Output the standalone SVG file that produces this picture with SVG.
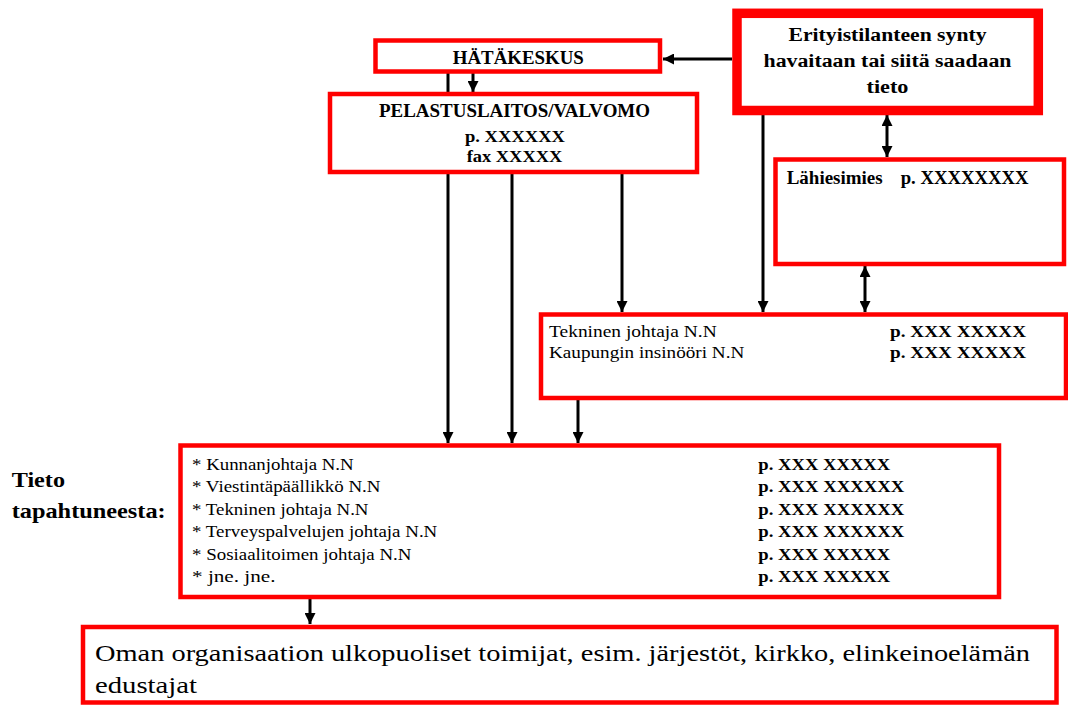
<svg xmlns="http://www.w3.org/2000/svg" width="1068" height="705" viewBox="0 0 1068 705" font-family="'Liberation Serif', 'Times New Roman', Times, serif">
<style>
.box{fill:#fff;stroke:#ff0000;stroke-width:4.5}
.thick{fill:#fff;stroke:#ff0000;stroke-width:9.5}
text{font-family:'Liberation Serif','Times New Roman',Times,serif;fill:#000}
.b{font-weight:bold}
.c{text-anchor:middle}
.con{stroke:#000;stroke-width:3;fill:none}
</style>
<defs>
<marker id="ah" markerUnits="userSpaceOnUse" markerWidth="11" markerHeight="11" viewBox="0 0 10 10" refX="10" refY="5" orient="auto-start-reverse">
<path d="M0,0 L10,5 L0,10 z" fill="#000"/>
</marker>
</defs>
<g id="connectors">
<line class="con" x1="732" y1="59" x2="663" y2="59" marker-end="url(#ah)"/>
<line class="con" x1="448" y1="73" x2="448" y2="443" marker-end="url(#ah)"/>
<line class="con" x1="473" y1="73" x2="473" y2="92" marker-end="url(#ah)"/>
<line class="con" x1="512" y1="174" x2="512" y2="443" marker-end="url(#ah)"/>
<line class="con" x1="622" y1="174" x2="622" y2="312" marker-end="url(#ah)"/>
<line class="con" x1="763" y1="115" x2="763" y2="312" marker-end="url(#ah)"/>
<line class="con" x1="887" y1="115" x2="887" y2="157" marker-start="url(#ah)" marker-end="url(#ah)"/>
<line class="con" x1="865" y1="266" x2="865" y2="312" marker-start="url(#ah)" marker-end="url(#ah)"/>
<line class="con" x1="578" y1="400" x2="578" y2="443" marker-end="url(#ah)"/>
<line class="con" x1="310" y1="599" x2="310" y2="624" marker-end="url(#ah)"/>
</g>
<g id="hatakeskus">
<rect class="box" x="375.5" y="40.5" width="284.5" height="31"/>
<text class="b c" x="518.3" y="64.3" font-size="18" textLength="131" lengthAdjust="spacingAndGlyphs">HÄTÄKESKUS</text>
</g>
<g id="pelastuslaitos">
<rect class="box" x="330" y="94" width="367" height="78"/>
<text class="b c" x="514.5" y="117.3" font-size="18.6" textLength="271" lengthAdjust="spacingAndGlyphs">PELASTUSLAITOS/VALVOMO</text>
<text class="b c" x="515" y="141.7" font-size="17.6" textLength="100" lengthAdjust="spacingAndGlyphs">p. XXXXXX</text>
<text class="b c" x="514.5" y="162.3" font-size="17.6" textLength="95.6" lengthAdjust="spacingAndGlyphs">fax XXXXX</text>
</g>
<g id="erityistilanne">
<rect class="thick" x="737" y="13.3" width="301.3" height="97.2"/>
<text class="b c" x="887.5" y="40.7" font-size="18.6" textLength="198" lengthAdjust="spacingAndGlyphs">Erityistilanteen synty</text>
<text class="b c" x="887.5" y="66.7" font-size="18.6" textLength="248" lengthAdjust="spacingAndGlyphs">havaitaan tai siitä saadaan</text>
<text class="b c" x="887.5" y="93.3" font-size="18.6" textLength="42" lengthAdjust="spacingAndGlyphs">tieto</text>
</g>
<g id="lahiesimies">
<rect class="box" x="775.5" y="159.5" width="288.5" height="104.5"/>
<text class="b" x="786.7" y="184" font-size="18.6" textLength="96" lengthAdjust="spacingAndGlyphs">Lähiesimies</text>
<text class="b" x="900.7" y="184" font-size="18.6" textLength="127.7" lengthAdjust="spacingAndGlyphs">p. XXXXXXXX</text>
</g>
<g id="tekninen">
<rect class="box" x="541" y="314.5" width="525" height="83.5"/>
<text x="549" y="337" font-size="17.6" textLength="167.7" lengthAdjust="spacingAndGlyphs">Tekninen johtaja N.N</text>
<text x="549" y="358" font-size="17.6" textLength="195.3" lengthAdjust="spacingAndGlyphs">Kaupungin insinööri N.N</text>
<text class="b" x="890" y="337" font-size="17" textLength="136" lengthAdjust="spacingAndGlyphs">p. XXX XXXXX</text>
<text class="b" x="890" y="358" font-size="17" textLength="136" lengthAdjust="spacingAndGlyphs">p. XXX XXXXX</text>
</g>
<g id="tieto-label">
<text class="b" x="11.7" y="487" font-size="21" textLength="53.3" lengthAdjust="spacingAndGlyphs">Tieto</text>
<text class="b" x="11.7" y="517.5" font-size="21" textLength="154" lengthAdjust="spacingAndGlyphs">tapahtuneesta:</text>
</g>
<g id="lista">
<rect class="box" x="180.5" y="445.5" width="818.5" height="151.5"/>
<text x="192" y="469.5" font-size="16.5" textLength="161.7" lengthAdjust="spacingAndGlyphs">* Kunnanjohtaja N.N</text>
<text x="192" y="492" font-size="16.5" textLength="188.5" lengthAdjust="spacingAndGlyphs">* Viestintäpäällikkö N.N</text>
<text x="192" y="514.5" font-size="16.5" textLength="176.5" lengthAdjust="spacingAndGlyphs">* Tekninen johtaja N.N</text>
<text x="192" y="537" font-size="16.5" textLength="245.3" lengthAdjust="spacingAndGlyphs">* Terveyspalvelujen johtaja N.N</text>
<text x="192" y="559.5" font-size="16.5" textLength="219.5" lengthAdjust="spacingAndGlyphs">* Sosiaalitoimen johtaja N.N</text>
<text x="192" y="582" font-size="16.5" textLength="83.5" lengthAdjust="spacingAndGlyphs">* jne. jne.</text>
<text class="b" x="758.3" y="469.5" font-size="16.5" textLength="132" lengthAdjust="spacingAndGlyphs">p. XXX XXXXX</text>
<text class="b" x="758.3" y="492" font-size="16.5" textLength="146" lengthAdjust="spacingAndGlyphs">p. XXX XXXXXX</text>
<text class="b" x="758.3" y="514.5" font-size="16.5" textLength="146" lengthAdjust="spacingAndGlyphs">p. XXX XXXXXX</text>
<text class="b" x="758.3" y="537" font-size="16.5" textLength="146" lengthAdjust="spacingAndGlyphs">p. XXX XXXXXX</text>
<text class="b" x="758.3" y="559.5" font-size="16.5" textLength="132" lengthAdjust="spacingAndGlyphs">p. XXX XXXXX</text>
<text class="b" x="758.3" y="582" font-size="16.5" textLength="132" lengthAdjust="spacingAndGlyphs">p. XXX XXXXX</text>
</g>
<g id="ulkopuoliset">
<rect class="box" x="83" y="627" width="973.5" height="75.5"/>
<text x="95" y="661" font-size="24" textLength="935" lengthAdjust="spacingAndGlyphs">Oman organisaation ulkopuoliset toimijat, esim. järjestöt, kirkko, elinkeinoelämän</text>
<text x="95" y="693" font-size="24" textLength="102" lengthAdjust="spacingAndGlyphs">edustajat</text>
</g>
</svg>
